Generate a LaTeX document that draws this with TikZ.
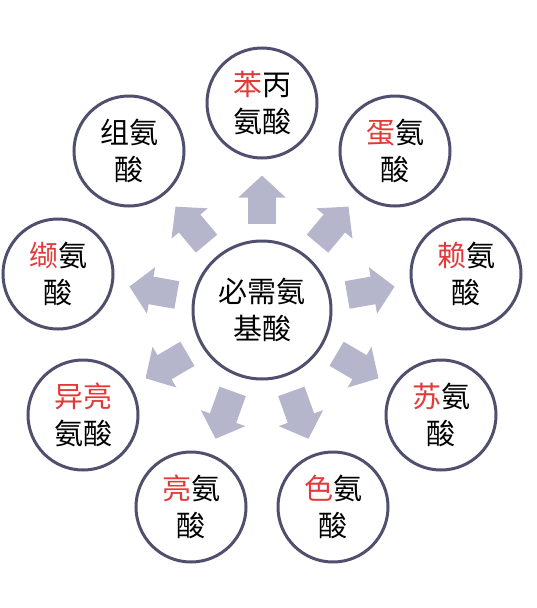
\documentclass[tikz,border=0pt]{standalone}
\usepackage{fontspec}
\newfontfamily\cjk{Noto Sans CJK SC}
\usetikzlibrary{arrows.meta}

\definecolor{ringcol}{HTML}{50506E}
\definecolor{flowcol}{HTML}{B5B6CC}
\definecolor{redcol}{HTML}{E23A3A}

\newcommand{\hl}[1]{\textcolor{redcol}{#1}}

\tikzset{
	amino/.style={circle, draw=ringcol, line width=3pt, minimum size=110pt, inner sep=0pt,
		align=center, font=\cjk\fontsize{29}{37}\selectfont},
	hub/.style={amino, minimum size=138pt},
	flow/.style={draw=flowcol, line width=28pt, shorten <=16pt, shorten >=16pt,
		-{Triangle[width=46pt,length=22pt]}}
}

\begin{document}
\begin{tikzpicture}[x=1pt, y=-1pt]
	\useasboundingbox (0, 0) rectangle (536, 608);

	% Nodes:
	\node[hub] (core) at (262, 310) {必需氨\\基酸};

	\node[amino] (phe) at (262, 103) {\hl{苯}丙\\氨酸};
	\node[amino] (his) at (129, 151) {组氨\\酸};
	\node[amino] (val) at (58, 274) {\hl{缬}氨\\酸};
	\node[amino] (ile) at (83, 415) {\hl{异亮}\\氨酸};
	\node[amino] (leu) at (191, 507) {\hl{亮}氨\\酸};
	\node[amino] (trp) at (333, 507) {\hl{色}氨\\酸};
	\node[amino] (thr) at (441, 415) {\hl{苏}氨\\酸};
	\node[amino] (lys) at (466, 274) {\hl{赖}氨\\酸};
	\node[amino] (met) at (395, 151) {\hl{蛋}氨\\酸};

	% Arrows:
	\draw[flow] (core) -- (phe);
	\draw[flow] (core) -- (his);
	\draw[flow] (core) -- (val);
	\draw[flow] (core) -- (ile);
	\draw[flow] (core) -- (leu);
	\draw[flow] (core) -- (trp);
	\draw[flow] (core) -- (thr);
	\draw[flow] (core) -- (lys);
	\draw[flow] (core) -- (met);

\end{tikzpicture}
\end{document}
